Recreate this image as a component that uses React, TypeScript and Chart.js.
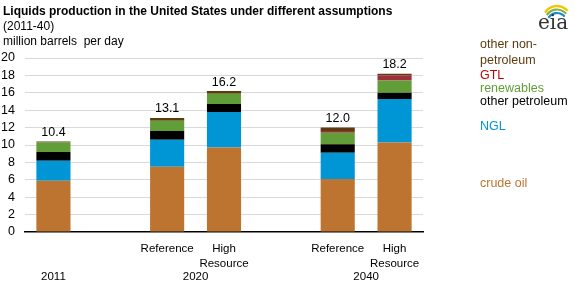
import React, { useEffect, useRef } from "react";
import { Chart, registerables } from "chart.js";

Chart.register(...registerables);

// ---- data ----
const categories = ["2011", "gap1", "2020 Reference", "2020 High Resource", "gap2", "2040 Reference", "2040 High Resource"];
const tickLabels: (string | string[])[] = ["", "", "Reference", ["High", "Resource"], "", "Reference", ["High", "Resource"]];
const yearLabels = ["2011", "2020", "2040"];
const yearGroups = [[0], [2, 3], [5, 6]];
const seriesNames = ["crude oil", "NGL", "other petroleum", "renewables", "GTL", "other non-petroleum"];
const crudeOil = [5.9, null, 7.5, 9.7, null, 6.1, 10.3];
const ngl = [2.3, null, 3.1, 4.1, null, 3.0, 5.0];
const otherPetroleum = [1.0, null, 1.0, 0.9, null, 1.0, 0.7];
const renewables = [1.1, null, 1.2, 1.2, null, 1.3, 1.4];
const gtl = [0.0, null, 0.0, 0.0, null, 0.2, 0.6];
const otherNonPetroleum = [0.1, null, 0.3, 0.3, null, 0.4, 0.2];
const totals = ["10.4", null, "13.1", "16.2", null, "12.0", "18.2"];
const yTicks = [0, 2, 4, 6, 8, 10, 12, 14, 16, 18, 20];

const FONT = '"Liberation Sans", Arial, Helvetica, sans-serif';

const barColors = ["#BD7430", "#0096D6", "#000000", "#629E38", "#9E2E3C", "#5C3C0E"];
const labelColors = ["#BD7430", "#0096D6", "#000000", "#629E38", "#C00000", "#5C3C0E"];

export default function App() {
  const ref = useRef<HTMLCanvasElement | null>(null);

  useEffect(() => {
    document.body.style.margin = "0";
    const canvas = ref.current;
    if (!canvas) return;
    const series = [crudeOil, ngl, otherPetroleum, renewables, gtl, otherNonPetroleum];

    const annotations = {
      id: "annotations",
      afterDraw(chart: any) {
        const ctx = chart.ctx as CanvasRenderingContext2D;
        const xs = chart.scales.x;
        const ys = chart.scales.y;
        const area = chart.chartArea;
        ctx.save();
        ctx.textBaseline = "middle";
        ctx.textAlign = "left";
        ctx.fillStyle = "#000";
        ctx.font = `bold 12px ${FONT}`;
        ctx.fillText("Liquids production in the United States under different assumptions", 3, 12);
        ctx.font = `12px ${FONT}`;
        ctx.fillText("(2011-40)", 3, 27);
        ctx.fillText("million barrels  per day", 3, 42);

        // totals
        ctx.textAlign = "center";
        ctx.font = `12.5px ${FONT}`;
        totals.forEach((t, i) => {
          if (!t) return;
          let sum = 0;
          series.forEach((s) => (sum += (s[i] as number) || 0));
          const x = xs.getPixelForValue(i);
          const y = ys.getPixelForValue(sum);
          ctx.fillText(t, x, y - 9);
        });

        // year row
        ctx.font = `11.5px ${FONT}`;
        yearGroups.forEach((g, k) => {
          const x = g.reduce((a, i) => a + xs.getPixelForValue(i), 0) / g.length;
          ctx.fillText(yearLabels[k], x, 277);
        });

        // right-side series labels
        ctx.textAlign = "left";
        ctx.font = `12.5px ${FONT}`;
        const lx = area.right + 57;
        const place: [number, string[], number][] = [
          [5, ["other non-", "petroleum"], 45],
          [4, ["GTL"], 76],
          [3, ["renewables"], 89],
          [2, ["other petroleum"], 102],
          [1, ["NGL"], 127],
          [0, ["crude oil"], 184],
        ];
        place.forEach(([si, lines, y]) => {
          ctx.fillStyle = labelColors[si];
          lines.forEach((ln, j) => ctx.fillText(ln, lx, y + j * 16));
        });

        // eia logo
        const cx = 553;
        ctx.lineCap = "round";
        const arcs: [string, number, number][] = [
          ["#F2C500", 14, 2.4],
          ["#7CB342", 12, 2.2],
          ["#1E88C8", 10, 2.2],
        ];
        arcs.forEach(([c, r, w], k) => {
          ctx.strokeStyle = c;
          ctx.lineWidth = w;
          ctx.beginPath();
          ctx.arc(cx + 4, 20 + k * 1.5, r, Math.PI * 1.2, Math.PI * 1.75);
          ctx.stroke();
        });
        ctx.fillStyle = "#333";
        ctx.textAlign = "center";
        ctx.textBaseline = "alphabetic";
        ctx.font = `20px "DejaVu Serif", "Liberation Serif", serif`;
        ctx.fillText("eia", cx, 29);
        ctx.restore();
      },
    };

    const chart = new Chart(canvas, {
      type: "bar",
      data: {
        labels: categories,
        datasets: series.map((d, k) => ({
          label: seriesNames[k],
          data: d,
          backgroundColor: barColors[k],
          borderWidth: 0,
          barPercentage: 0.6,
          categoryPercentage: 1,
        })),
      },
      options: {
        animation: false,
        responsive: false,
        events: [],
        layout: { padding: { top: 58, right: 152, left: 0, bottom: 0 } },
        plugins: { legend: { display: false }, tooltip: { enabled: false }, title: { display: false } },
        scales: {
          x: {
            stacked: true,
            grid: { display: false, drawTicks: false },
            border: { display: true, color: "#000", width: 1.5 },
            afterFit: (s: any) => {
              s.height = 54;
            },
            ticks: {
              autoSkip: false,
              maxRotation: 0,
              minRotation: 0,
              padding: 9,
              color: "#000",
              font: { family: FONT, size: 11.5, lineHeight: 1.3 },
              callback: (_v: any, i: number) => tickLabels[i],
            },
          },
          y: {
            stacked: true,
            min: 0,
            max: 20,
            afterFit: (s: any) => {
              s.width = 25;
            },
            afterBuildTicks: (s: any) => {
              s.ticks = yTicks.map((v) => ({ value: v }));
            },
            border: { display: false },
            grid: {
              drawTicks: false,
              color: (c: any) => (c.tick && c.tick.value === 0 ? "rgba(0,0,0,0)" : "#D9D9D9"),
              lineWidth: 1,
            },
            ticks: {
              autoSkip: false,
              padding: 10,
              color: "#000",
              font: { family: FONT, size: 12.5 },
            },
          },
        },
      },
      plugins: [annotations],
    });
    return () => chart.destroy();
  }, []);

  return (
    <div style={{ width: 575, height: 286, background: "#fff" }}>
      <canvas ref={ref} width={575} height={286} style={{ display: "block", width: 575, height: 286 }} />
    </div>
  );
}
